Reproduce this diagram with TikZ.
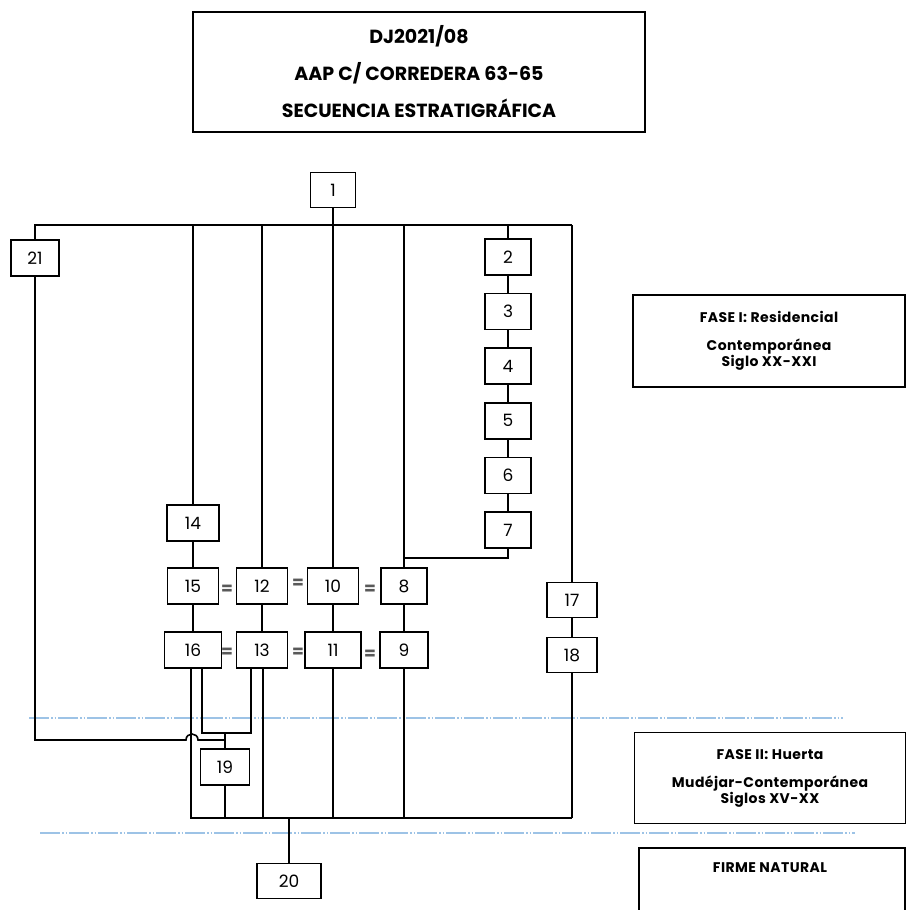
\documentclass[tikz,border=0pt]{standalone}
\usepackage{fontspec}
\setmainfont{Poppins}
\usetikzlibrary{positioning}
\definecolor{sepblue}{HTML}{9DC3E6}

\begin{document}
\begin{tikzpicture}[x=1pt, y=-1pt,
  unit/.style={rectangle, draw, line width=1.6pt, minimum width=48pt, minimum height=36pt, inner sep=0pt, font=\fontsize{17}{19}\selectfont},
  phase/.style={rectangle, draw, line width=1.6pt, align=center, inner sep=0pt, font=\bfseries\fontsize{14}{16}\selectfont\addfontfeatures{LetterSpace=3}},
  eq/.style={inner sep=0pt, font=\bfseries\fontsize{17}{17}\selectfont, text=black!65},
  link/.style={line width=1.6pt},
  sep/.style={line width=2.2pt, sepblue, dash pattern=on 20pt off 2pt on 1.5pt off 2pt on 1.5pt off 2pt},
  node distance=17pt
]
\useasboundingbox (0,0) rectangle (907,910);

% title
\node[draw, line width=2.2pt, minimum width=452pt, minimum height=120pt, align=center,
      font=\bfseries\fontsize{19}{37}\selectfont] (title) at (419,72)
  {DJ2021/08\\AAP C/ CORREDERA 63-65\\SECUENCIA ESTRATIGRÁFICA};

% units
\node[unit, minimum width=45pt, minimum height=35pt] (u1) at (333,190) {1};
\node[unit] (u21) at (35,258) {21};
\node[unit, minimum width=46pt] (u2) at (508,257) {2};
\node[unit, minimum width=46pt, below=of u2] (u3) {3};
\node[unit, minimum width=46pt, below=of u3] (u4) {4};
\node[unit, minimum width=46pt, below=of u4] (u5) {5};
\node[unit, minimum width=46pt, below=of u5] (u6) {6};
\node[unit, minimum width=46pt, below=of u6] (u7) {7};
\node[unit, minimum width=52pt] (u14) at (193,523) {14};
\node[unit, minimum width=51pt] (u15) at (193,586) {15};
\node[unit, minimum width=51pt] (u12) at (262,586) {12};
\node[unit, minimum width=51pt] (u10) at (333,586) {10};
\node[unit, minimum width=46pt] (u8)  at (404,586) {8};
\node[unit, minimum width=57pt] (u16) at (193,650) {16};
\node[unit, minimum width=51pt] (u13) at (262,650) {13};
\node[unit, minimum width=56pt] (u11) at (333,650) {11};
\node[unit, minimum width=48pt] (u9)  at (404,650) {9};
\node[unit, minimum width=50pt, minimum height=35pt] (u17) at (572,600) {17};
\node[unit, minimum width=50pt, minimum height=35pt] (u18) at (572,655) {18};
\node[unit, minimum width=49pt] (u19) at (225,767) {19};
\node[unit, minimum width=64pt, minimum height=35pt] (u20) at (289,881) {20};

% equivalences
\node[eq] (e1) at (227,590) {=};
\node[eq] (e2) at (298,584) {=};
\node[eq] (e3) at (370,590) {=};
\node[eq] (e4) at (227,653) {=};
\node[eq] (e5) at (298,653) {=};
\node[eq] (e6) at (370,655) {=};

% phases
\node[phase, minimum width=272pt, minimum height=92pt] (fase1) at (769,341)
  {FASE I: Residencial\\[12pt]Contemporánea\\Siglo XX-XXI};
\node[phase, minimum width=271pt, minimum height=91pt] (fase2) at (770,778)
  {FASE II: Huerta\\[12pt]Mudéjar-Contemporánea\\Siglos XV-XX};
\draw[line width=1.6pt] (639,930) |- (905,848) -- (905,930);
\node[inner sep=0pt, font=\bfseries\fontsize{14}{16}\selectfont\addfontfeatures{LetterSpace=3}] (firme) at (770,868) {FIRME NATURAL};

% separations
\draw[sep] (29,718) -- (843,718);
\draw[sep] (40,833) -- (855,833);

% top bus
\coordinate (topL) at (35,225);
\coordinate (topR) at (572,225);
\draw[link] (u21.north) |- (topR);
\draw[link] (u1) -- (u10);
\draw[link] (u14.north |- topL) -- (u14);
\draw[link] (u12.north |- topL) -- (u12);
\draw[link] (u8.north |- topL) -- (u8);
\draw[link] (u2.north |- topL) -- (u2);
\draw[link] (topR) -- (u17);

% sequences
\draw[link] (u2) -- (u3) -- (u4) -- (u5) -- (u6) -- (u7);
\coordinate (j7) at (404,558);
\draw[link] (u7.south) |- (j7);
\draw[link] (u14.south) -- (u15.north);
\draw[link] (u15.south) -- (u16.north);
\draw[link] (u12) -- (u13);
\draw[link] (u10) -- (u11);
\draw[link] (u8.south) -- (u9.north);
\draw[link] (u17) -- (u18);

% lower links
\coordinate (j19) at (225,733);
\coordinate (hopA) at (186,740);
\coordinate (hopB) at (198,740);
\coordinate (j21) at (225,740);
\draw[link] ([xshift=9pt]u16.south) |- (j19) -| ([xshift=-11pt]u13.south);
\draw[link] (u21.south) |- (hopA) .. controls (186,732) and (198,732) .. (hopB) -- (j21);
\draw[link] (j19) -- (u19);

% bottom bus
\coordinate (botL) at (191,818);
\coordinate (botR) at (572,818);
\draw[link] ([xshift=-2pt]u16.south) |- (botR);
\draw[link] (u18) -- (botR);
\draw[link] (u19) -- (u19 |- botL);
\draw[link] ([xshift=1pt]u13.south) -- ([xshift=1pt]u13.south |- botL);
\draw[link] (u11) -- (u11 |- botL);
\draw[link] (u9) -- (u9 |- botL);
\draw[link] (u20) -- (u20 |- botL);

\end{tikzpicture}
\end{document}
